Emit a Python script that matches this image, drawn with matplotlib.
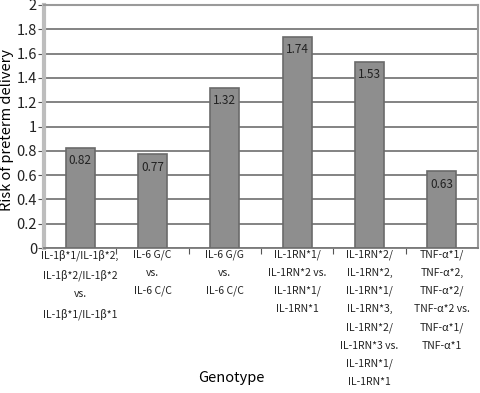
import matplotlib.pyplot as plt

plt.rcParams['font.family'] = ['Noto Sans CJK KR', 'DejaVu Sans']

genotypes = [
    "IL-1β*1/IL-1β*2,\nIL-1β*2/IL-1β*2\nvs.\nIL-1β*1/IL-1β*1",
    "IL-6 G/C\nvs.\nIL-6 C/C",
    "IL-6 G/G\nvs.\nIL-6 C/C",
    "IL-1RN*1/\nIL-1RN*2 vs.\nIL-1RN*1/\nIL-1RN*1",
    "IL-1RN*2/\nIL-1RN*2,\nIL-1RN*1/\nIL-1RN*3,\nIL-1RN*2/\nIL-1RN*3 vs.\nIL-1RN*1/\nIL-1RN*1",
    "TNF-α*1/\nTNF-α*2,\nTNF-α*2/\nTNF-α*2 vs.\nTNF-α*1/\nTNF-α*1",
]
risk = [0.82, 0.77, 1.32, 1.74, 1.53, 0.63]
yticks = [0, 0.2, 0.4, 0.6, 0.8, 1, 1.2, 1.4, 1.6, 1.8, 2]
ytick_labels = ["0", "0.2", "0.4", "0.6", "0.8", "1", "1.2", "1.4", "1.6", "1.8", "2"]

fig = plt.figure(figsize=(4.8, 3.93), dpi=100)
ax = fig.add_axes([44 / 480, 1 - 248 / 393, 434 / 480, 243 / 393])

pos = range(len(risk))
bars = ax.bar(pos, risk, width=0.4, color='#8e8e8e', edgecolor='#6b6b6b',
              linewidth=1.2, zorder=3)
for b, v in zip(bars, risk):
    ax.text(b.get_x() + b.get_width() / 2, v - 0.05, f"{v:.2f}",
            ha='center', va='top', fontsize=8.5, color='#222222', zorder=4)

ax.set_xlim(-0.5, len(risk) - 0.5)
ax.set_ylim(0, 2)
ax.set_yticks(yticks)
ax.set_yticklabels(ytick_labels, fontsize=10.5, color='#222222')
ax.yaxis.grid(True, color='#7a7a7a', linewidth=1.3, zorder=0)
ax.set_axisbelow(True)

ax.set_xticks([p + 0.5 for p in pos][:-1])
ax.set_xticklabels([])
ax.set_xticks(list(pos), minor=True)
ax.set_xticklabels(genotypes, minor=True, fontsize=7.5, linespacing=2.0,
                   color='#222222', va='top')
ax.tick_params(axis='x', which='minor', length=0, pad=1)
ax.tick_params(axis='x', which='major', length=4, color='#555555', direction='out')
ax.tick_params(axis='y', length=4, color='#555555', pad=1)

for s in ['top', 'right']:
    ax.spines[s].set_color('#9a9a9a')
    ax.spines[s].set_linewidth(1.5)
ax.spines['left'].set_color('#bdbdbd')
ax.spines['left'].set_linewidth(3)
ax.spines['bottom'].set_color('#7a7a7a')
ax.spines['bottom'].set_linewidth(1.3)

ax.set_ylabel("Risk of preterm delivery", fontsize=10.5)
ax.yaxis.set_label_coords(-0.068, 0.486)
fig.text(231 / 480, 1 - 378 / 393, "Genotype", ha='center', va='center', fontsize=10.5)

fig.savefig("out.png", dpi=100)
